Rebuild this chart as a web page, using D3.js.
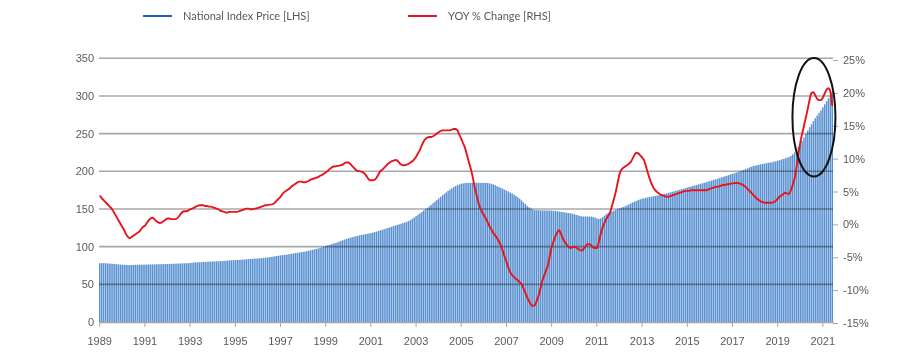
<!DOCTYPE html>
<html>
<head>
<meta charset="utf-8">
<script src="https://cdn.jsdelivr.net/npm/d3@7"></script>
<style>
  body { margin: 0; background: #fff; }
  svg { display: block; font-family: Lato, "Open Sans", sans-serif; }
  .axis text, .legend text { fill: #595959; font-size: 11px; }
  .axis line, .axis path { stroke: #a6a6a6; }
</style>
</head>
<body>
<div id="chart"></div>
<script>
// monthly data, Jan 1989 .. Jun 2021, one row per year
var firstYear = 1989;

var indexValues = [
  78, 78, 78, 78, 77.8, 77.6, 77.4, 77.2, 77, 76.7, 76.4, 76.2,            // 1989
  76, 75.8, 75.7, 75.6, 75.6, 75.7, 75.8, 75.9, 76, 76, 76.1, 76.1,         // 1990
  76.2, 76.2, 76.3, 76.3, 76.4, 76.5, 76.5, 76.6, 76.7, 76.8, 76.8, 76.9,   // 1991
  77, 77.1, 77.2, 77.3, 77.4, 77.5, 77.6, 77.7, 77.8, 77.9, 78, 78.1,       // 1992
  78.3, 78.6, 79, 79.1, 79.2, 79.3, 79.4, 79.6, 79.8, 80, 80.1, 80.2,       // 1993
  80.3, 80.4, 80.5, 80.6, 80.7, 80.8, 81, 81.2, 81.6, 81.8, 82, 82.1,       // 1994
  82.2, 82.3, 82.4, 82.6, 82.8, 83, 83.2, 83.4, 83.6, 83.8, 84, 84.2,       // 1995
  84.4, 84.6, 84.7, 85, 85.3, 85.6, 86, 86.4, 86.8, 87.2, 87.6, 88,         // 1996
  88.4, 88.7, 89, 89.4, 89.8, 90.2, 90.6, 91, 91.4, 91.8, 92.2, 92.6,       // 1997
  93, 93.5, 94, 94.6, 95.2, 95.8, 96.4, 97, 97.6, 98.3, 99, 100,            // 1998
  100.8, 101.6, 102.4, 103.2, 104, 104.8, 105.6, 106.4, 107.5, 108.5, 109.4, 110.2, // 1999
  111, 111.8, 112.5, 113.2, 113.8, 114.4, 115, 115.5, 116, 116.5, 117, 117.5,       // 2000
  118, 118.6, 119.3, 120, 120.8, 121.6, 122.4, 123.2, 124, 124.8, 125.6, 126.4,     // 2001
  127.2, 128, 128.8, 129.6, 130.4, 131.2, 132, 133, 134, 135.4, 137, 138.8,         // 2002
  140.6, 142.4, 144.2, 146, 147.8, 149.6, 151.4, 153.4, 155.4, 157.6, 159.8, 162,   // 2003
  164, 166, 168, 170, 172, 174, 175.8, 177.4, 179, 180.4, 181.6, 182.6,             // 2004
  183.4, 184, 184.4, 184.6, 184.7, 184.8, 184.8, 184.8, 184.8, 184.8, 184.7, 184.6, // 2005
  184.6, 184.6, 184.4, 184, 183.4, 182.6, 181.6, 180.4, 179.2, 178, 176.8, 175.6,   // 2006
  174.4, 173.2, 171.8, 170.4, 169, 167.4, 165.6, 163.6, 161.4, 159, 156.6, 154,     // 2007
  152.2, 150.6, 149.2, 148.6, 148.4, 148.3, 148.2, 148.2, 148.1, 148, 148, 148,     // 2008
  147.8, 147.6, 147.4, 147, 146.6, 146.2, 145.8, 145.4, 145, 144.6, 144.2, 143.6,   // 2009
  143, 142.4, 141.6, 140.8, 140.2, 140, 140, 140, 140, 139.8, 139.4, 138.6,         // 2010
  137.5, 136.8, 137.5, 139, 141, 143, 144.6, 145.8, 146.8, 147.8, 148.8, 149.8,     // 2011
  150.8, 151.8, 152.7, 153.5, 154.8, 156.1, 157.4, 158.7, 159.8, 160.8, 161.8, 162.8, // 2012
  163.6, 164.2, 164.8, 165.3, 165.8, 166.3, 166.8, 167.3, 167.8, 168.3, 168.8, 169.4, // 2013
  170, 170.7, 171.4, 172.1, 172.8, 173.5, 174.2, 174.9, 175.6, 176.3, 177, 177.8,   // 2014
  178.5, 179.2, 179.9, 180.6, 181.3, 182, 182.7, 183.4, 184.1, 184.8, 185.5, 186.3, // 2015
  187, 187.8, 188.6, 189.4, 190.2, 191, 191.8, 192.6, 193.4, 194.2, 195, 195.8,     // 2016
  196.6, 197.4, 198.2, 199, 200, 201, 202, 203, 204, 205, 206, 207,                 // 2017
  207.6, 208.2, 208.7, 209.2, 209.7, 210.2, 210.7, 211.2, 211.7, 212.2, 212.7, 213.3, // 2018
  214, 214.8, 215.6, 216.4, 217.2, 218, 219, 220.5, 222.5, 225, 228.5, 232.5,       // 2019
  236.5, 240.5, 245, 249.5, 254, 258.5, 262.5, 266.5, 270.5, 274, 277.5, 281,       // 2020
  285, 289, 293, 297, 301, 305                                                      // 2021
];

var yoyValues = [
  4.4, 4.0, 3.7, 3.4, 3.1, 2.8, 2.5, 2.1, 1.6, 1.1, 0.6, 0.1,            // 1989
  -0.4, -0.9, -1.5, -1.9, -2.1, -1.9, -1.7, -1.5, -1.3, -1.1, -0.7, -0.4, // 1990
  -0.2, 0.2, 0.6, 0.9, 1.0, 0.8, 0.5, 0.3, 0.2, 0.3, 0.5, 0.7,           // 1991
  0.9, 0.9, 0.8, 0.8, 0.8, 0.9, 1.2, 1.6, 1.9, 2.0, 2.0, 2.1,            // 1992
  2.3, 2.4, 2.5, 2.7, 2.8, 2.9, 2.9, 2.9, 2.8, 2.8, 2.7, 2.7,            // 1993
  2.6, 2.5, 2.4, 2.3, 2.1, 2.0, 1.9, 1.8, 1.8, 1.9, 1.9, 1.9,            // 1994
  1.9, 1.9, 2.0, 2.1, 2.2, 2.3, 2.4, 2.4, 2.3, 2.3, 2.4, 2.4,            // 1995
  2.5, 2.6, 2.7, 2.8, 2.9, 2.9, 3.0, 3.0, 3.1, 3.3, 3.6, 3.9,            // 1996
  4.2, 4.6, 4.9, 5.1, 5.3, 5.5, 5.8, 6.0, 6.2, 6.4, 6.5, 6.5,            // 1997
  6.4, 6.4, 6.5, 6.6, 6.8, 6.9, 7.0, 7.1, 7.2, 7.4, 7.5, 7.7,            // 1998
  7.9, 8.1, 8.4, 8.6, 8.8, 8.8, 8.9, 8.9, 9.0, 9.1, 9.3, 9.4,            // 1999
  9.4, 9.2, 8.9, 8.6, 8.3, 8.1, 8.1, 8.0, 7.9, 7.6, 7.2, 6.8,            // 2000
  6.7, 6.7, 6.8, 7.1, 7.6, 8.1, 8.3, 8.6, 8.9, 9.2, 9.4, 9.6,            // 2001
  9.7, 9.8, 9.7, 9.4, 9.1, 9.0, 9.0, 9.1, 9.2, 9.4, 9.6, 9.9,            // 2002
  10.3, 10.8, 11.3, 12.0, 12.6, 13.0, 13.2, 13.3, 13.3, 13.4, 13.6, 13.8, // 2003
  14.0, 14.2, 14.3, 14.3, 14.3, 14.3, 14.3, 14.4, 14.5, 14.5, 14.3, 13.6, // 2004
  13.0, 12.3, 11.6, 10.6, 9.5, 8.5, 7.3, 5.8, 4.6, 3.4, 2.5, 1.9,        // 2005
  1.4, 0.9, 0.3, -0.3, -0.8, -1.3, -1.7, -2.1, -2.6, -3.2, -4.0, -4.9,   // 2006
  -5.7, -6.6, -7.3, -7.7, -8.0, -8.3, -8.5, -8.8, -9.1, -9.7, -10.4, -11.1, // 2007
  -11.7, -12.2, -12.4, -12.3, -11.7, -10.9, -9.8, -8.6, -7.8, -7.0, -6.2, -4.8, // 2008
  -3.4, -2.6, -1.8, -1.2, -0.9, -1.5, -2.2, -2.7, -3.1, -3.4, -3.6, -3.5, // 2009
  -3.4, -3.5, -3.7, -3.9, -4.0, -3.7, -3.3, -3.0, -3.0, -3.2, -3.5, -3.6, // 2010
  -3.6, -2.8, -1.5, -0.5, 0.2, 0.8, 1.3, 1.8, 2.8, 3.8, 4.9, 6.3,        // 2011
  7.6, 8.3, 8.6, 8.8, 9.0, 9.2, 9.5, 10.0, 10.6, 10.9, 10.8, 10.5,       // 2012
  10.2, 9.8, 8.9, 7.9, 7.0, 6.2, 5.6, 5.2, 4.9, 4.7, 4.5, 4.4,           // 2013
  4.3, 4.2, 4.2, 4.3, 4.4, 4.5, 4.6, 4.7, 4.8, 4.9, 5.0, 5.1,            // 2014
  5.1, 5.1, 5.2, 5.2, 5.2, 5.2, 5.2, 5.2, 5.2, 5.2, 5.2, 5.3,            // 2015
  5.4, 5.5, 5.6, 5.7, 5.7, 5.8, 5.9, 6.0, 6.0, 6.1, 6.1, 6.2,            // 2016
  6.2, 6.3, 6.3, 6.3, 6.2, 6.1, 5.9, 5.7, 5.4, 5.1, 4.8, 4.5,            // 2017
  4.2, 3.9, 3.7, 3.5, 3.4, 3.3, 3.3, 3.3, 3.3, 3.3, 3.4, 3.6,            // 2018
  3.9, 4.2, 4.4, 4.6, 4.8, 4.7, 4.6, 5.2, 6.0, 7.0, 8.6, 10.6,           // 2019
  12.4, 13.8, 15.0, 16.3, 17.6, 19.0, 20.0, 20.1, 19.6, 19.1, 18.9, 18.9, // 2020
  19.3, 19.9, 20.5, 20.7, 20.2, 18.0                                     // 2021
];

var leftTicks = [0, 50, 100, 150, 200, 250, 300, 350];
var rightTicks = [-15, -10, -5, 0, 5, 10, 15, 20, 25];
var yearLabels = [1989, 1991, 1993, 1995, 1997, 1999, 2001, 2003, 2005,
                  2007, 2009, 2011, 2013, 2015, 2017, 2019, 2021];
var legendNames = ["National Index Price [LHS]", "YOY % Change [RHS]"];

var width = 900, height = 358;
var plotLeft = 99, plotRight = 833, plotTop = 58.3, plotBottom = 322;

var svg = d3.select("#chart").append("svg")
    .attr("width", width)
    .attr("height", height);

var months = d3.range(indexValues.length);

var x = d3.scaleBand()
    .domain(months)
    .range([plotLeft, plotRight])
    .paddingInner(0.22);

function xc(i) { return x(i) + x.bandwidth() / 2; }

var yL = d3.scaleLinear().domain([0, 350]).range([plotBottom, plotTop]);
var yR = d3.scaleLinear().domain([-15, 25]).range([323, 60]);

// bars
svg.append("g").selectAll("rect")
    .data(months)
    .enter().append("rect")
        .attr("x", function(i) { return x(i); })
        .attr("width", x.bandwidth())
        .attr("y", function(i) { return yL(indexValues[i]); })
        .attr("height", function(i) { return yL(0) - yL(indexValues[i]); })
        .attr("fill", "#5890d0");

// gridlines over bars
svg.append("g").selectAll("line")
    .data(leftTicks.filter(function(d) { return d > 0; }))
    .enter().append("line")
        .attr("x1", plotLeft)
        .attr("x2", plotRight)
        .attr("y1", function(d) { return yL(d); })
        .attr("y2", function(d) { return yL(d); })
        .attr("stroke", "#a8a8a8")
        .attr("stroke-width", 1.6)
        .style("mix-blend-mode", "multiply");

// left axis
svg.append("g")
    .attr("class", "axis")
    .attr("transform", "translate(" + plotLeft + ",0)")
    .call(d3.axisLeft(yL).tickValues(leftTicks).tickSize(0).tickPadding(5))
    .call(function(g) { g.select(".domain").remove(); });

// right axis
svg.append("g")
    .attr("class", "axis")
    .attr("transform", "translate(" + plotRight + ",0)")
    .call(d3.axisRight(yR).tickValues(rightTicks).tickSize(5).tickPadding(5)
        .tickFormat(function(d) { return d + "%"; }))
    .call(function(g) { g.select(".domain").remove(); });

// bottom axis
var xAxis = d3.axisBottom(x)
    .tickValues(yearLabels.map(function(y) { return (y - firstYear) * 12; }))
    .tickFormat(function(i) { return firstYear + i / 12; })
    .tickSize(5)
    .tickSizeOuter(0)
    .tickPadding(10);

svg.append("g")
    .attr("class", "axis")
    .attr("transform", "translate(0," + plotBottom + ")")
    .call(xAxis)
    .call(function(g) { g.select(".domain").attr("stroke-width", 1.3); });

// yoy line
var line = d3.line()
    .x(function(d, i) { return xc(i); })
    .y(function(d) { return yR(d); })
    .curve(d3.curveMonotoneX);

svg.append("path")
    .datum(yoyValues)
    .attr("d", line)
    .attr("fill", "none")
    .attr("stroke", "#e8141c")
    .attr("stroke-width", 1.9);

// annotation ellipse around the 2020-21 spike
var circleMonth = 379, circleTop = 25.3, circleBottom = 7.3;
svg.append("ellipse")
    .attr("cx", xc(circleMonth) + 0.5)
    .attr("cy", (yR(circleTop) + yR(circleBottom)) / 2)
    .attr("rx", 21.5)
    .attr("ry", (yR(circleBottom) - yR(circleTop)) / 2)
    .attr("fill", "none")
    .attr("stroke", "#111")
    .attr("stroke-width", 2);

// legend
var legend = svg.append("g").attr("class", "legend");
var legendX = [143, 408];
var legendColors = ["#1b5fc1", "#e8141c"];
legendNames.forEach(function(name, k) {
    legend.append("line")
        .attr("x1", legendX[k]).attr("x2", legendX[k] + 29)
        .attr("y1", 16).attr("y2", 16)
        .attr("stroke", legendColors[k])
        .attr("stroke-width", 2);
    legend.append("text")
        .attr("x", legendX[k] + 40)
        .attr("y", 16)
        .attr("dy", "0.35em")
        .text(name);
});
</script>
</body>
</html>
